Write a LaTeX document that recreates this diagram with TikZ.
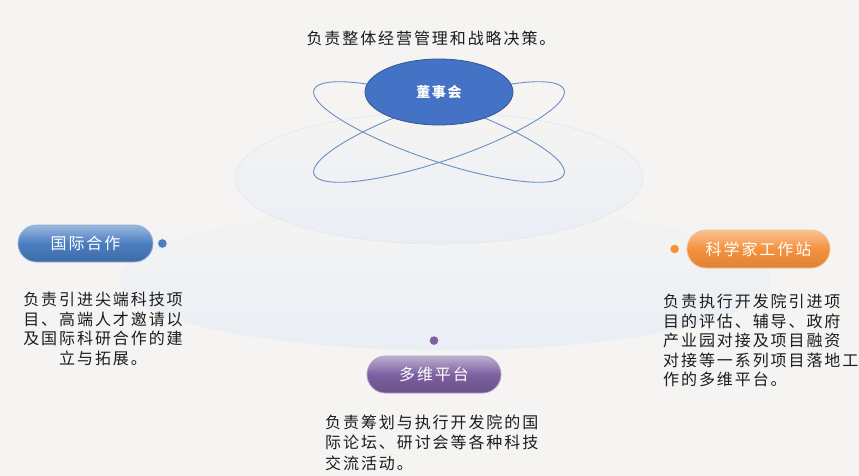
\documentclass[tikz,border=0pt]{standalone}
\usepackage{fontspec}
\newfontfamily\cjk[LetterSpace=12]{Noto Sans CJK SC}
\usepackage{tikz}
\usetikzlibrary{shapes,positioning,calc}
\definecolor{bggray}{RGB}{245,244,242}
\definecolor{textdark}{RGB}{28,28,28}
\definecolor{boardblue}{RGB}{68,114,196}
\definecolor{orbitblue}{RGB}{108,142,196}
\definecolor{haloline}{RGB}{226,231,239}
\definecolor{halofill}{RGB}{233,238,245}
\definecolor{intlblue}{RGB}{74,126,193}
\definecolor{sciorange}{RGB}{245,145,62}
\definecolor{multipurple}{RGB}{125,96,160}

\begin{document}
\begin{tikzpicture}[
    x=1pt, y=-1pt,
    desc/.style={inner sep=0pt, text=textdark, font=\cjk\fontsize{16}{19.5}\selectfont},
    pill/.style={rounded rectangle, minimum width=139pt, minimum height=37pt, inner sep=2pt, text=white, line width=0.8pt, font=\cjk\fontsize{16}{16}\selectfont},
    dot/.style={circle, minimum size=10.5pt, inner sep=0pt, line width=1.5pt},
    orbit/.style={draw=orbitblue, line width=0.9pt}
]

% background and faint rings
\fill[bggray] (0,0) rectangle (859,476);
\shade[top color=bggray, bottom color=halofill] (445,280) ellipse [x radius=325pt, y radius=70pt];
\draw[haloline!40!bggray, line width=0.6pt] (445,280) ellipse [x radius=325pt, y radius=70pt];
\shade[top color=bggray, bottom color=halofill] (439,178) ellipse [x radius=204pt, y radius=66pt];
\draw[haloline, line width=0.6pt] (439,178) ellipse [x radius=204pt, y radius=66pt];

% orbits
\draw[orbit] (439,132) ellipse [x radius=132pt, y radius=29pt, rotate=-18.6];
\draw[orbit] (439,132) ellipse [x radius=132pt, y radius=29pt, rotate=18.6];

% board
\node[ellipse, draw=boardblue!75!black, fill=boardblue, line width=0.8pt, minimum width=148pt, minimum height=66pt, text=white, font=\cjk\bfseries\fontsize{14}{14}\selectfont] (board) at (439,92) {董事会};
\node[desc] (boardtext) at (431,38) {负责整体经营管理和战略决策。};

% international cooperation
\node[pill, draw=intlblue!60!white, top color=intlblue!55!white, bottom color=intlblue!85!black, middle color=intlblue] (intl) at (85.5,243.5) {国际合作};
\node[dot, fill=intlblue, draw=intlblue!12, right=3pt of intl] (intldot) {};
\node[desc, align=center] (intltext) at (103,329) {负责引进尖端科技项\\目、高端人才邀请以\\及国际科研合作的建\\立与拓展。};

% scientist workstation
\node[pill, minimum width=147pt, minimum height=38pt, draw=sciorange!60!white, top color=sciorange!55!white, bottom color=sciorange!90!black, middle color=sciorange] (sci) at (758.5,249) {科学家工作站};
\node[dot, fill=sciorange, draw=sciorange!12, left=6pt of sci] (scidot) {};
\node[desc, align=left, anchor=west] (scitext) at (663,340.5) {负责执行开发院引进项\\目的评估、辅导、政府\\产业园对接及项目融资\\对接等一系列项目落地工\\作的多维平台。};

% multi platform
\node[pill, minimum width=138pt, draw=multipurple!60!white, top color=multipurple!50!white, bottom color=multipurple!85!black, middle color=multipurple] (multi) at (434,374.5) {多维平台};
\node[dot, fill=multipurple, draw=multipurple!12, above=9pt of multi] (multidot) {};
\node[desc, align=left, anchor=west, font=\cjk\fontsize{16}{20.5}\selectfont] (multitext) at (325,442.5) {负责筹划与执行开发院的国\\际论坛、研讨会等各种科技\\交流活动。};

\end{tikzpicture}
\end{document}
